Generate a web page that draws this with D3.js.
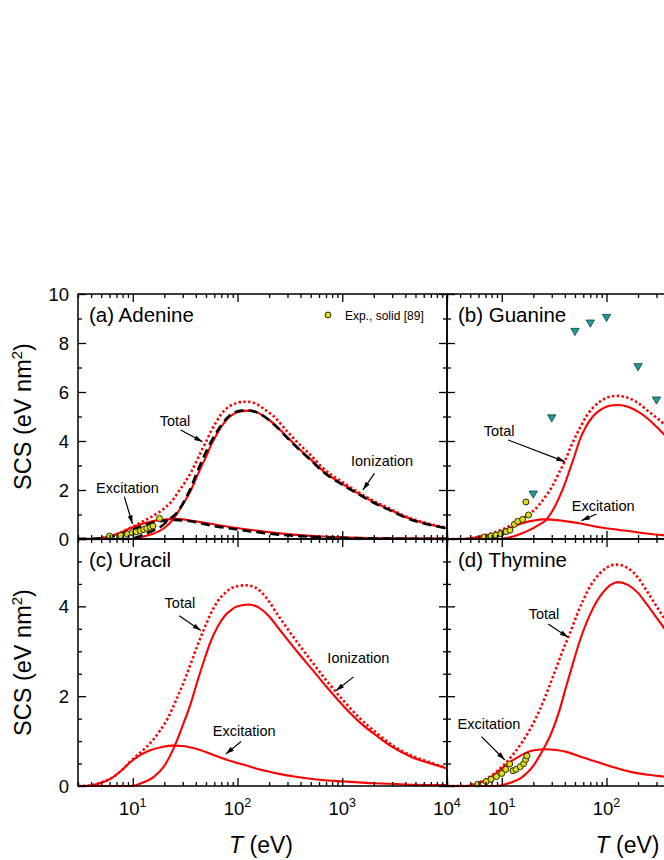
<!DOCTYPE html>
<html>
<head>
<meta charset="utf-8">
<script src="https://cdn.jsdelivr.net/npm/d3@7"></script>
<style>
body { margin: 0; background: #fff; }
svg { display: block; font-family: "Liberation Sans", Arial, sans-serif; overflow: hidden; }
</style>
</head>
<body>
<svg id="chart" width="664" height="860"></svg>
<script>
// ---- data: [T (eV), SCS (eV nm^2)] ----

// (a) Adenine
const adenineIon = [[3,0],[9,0],[10,0.01],[12,0.08],[14,0.15],[16,0.23],[20,0.45],[24,0.78],[27,1.1],[32,1.6],[36,2.0],[40,2.45],[45,2.95],[50,3.35],[56,3.84],[63,4.25],[70,4.58],[80,4.9],[94,5.13],[110,5.22],[128,5.24],[150,5.18],[180,5.0],[220,4.72],[300,4.15],[400,3.62],[500,3.25],[665,2.75],[1000,2.25],[1400,1.87],[2000,1.5],[2900,1.18],[4000,0.9],[4800,0.78],[7000,0.58],[10000,0.44]];
const adenineExc = [[3,0],[4,0],[5,0.04],[6,0.1],[7,0.2],[8,0.3],[9,0.4],[10,0.48],[12,0.6],[14,0.68],[17,0.76],[21,0.8],[25,0.82],[30,0.8],[39,0.73],[55,0.62],[81,0.5],[120,0.4],[182,0.3],[300,0.2],[660,0.1],[1500,0.05],[4000,0.025],[10000,0.015]];
const adenineTot = [[3,0],[4,0],[5,0.04],[6,0.1],[7,0.2],[8,0.3],[9,0.41],[10,0.5],[12,0.68],[14,0.83],[16,0.97],[20,1.25],[24,1.58],[27,1.9],[32,2.36],[36,2.72],[40,3.12],[45,3.58],[50,3.97],[56,4.4],[63,4.8],[70,5.1],[80,5.36],[94,5.52],[110,5.6],[126,5.6],[150,5.52],[180,5.3],[220,5.02],[300,4.38],[400,3.82],[500,3.42],[665,2.87],[1000,2.33],[1400,1.93],[2000,1.55],[2900,1.22],[4000,0.93],[7000,0.6],[10000,0.46]];
const adenineIonDash = [[3,0],[9,0],[11,0.07],[13,0.2],[16,0.36],[18.5,0.5],[22,0.78],[27,1.12],[31,1.55],[36,2.1],[40,2.6],[45,3.12],[50,3.55],[56,3.97],[63,4.35],[70,4.65],[80,4.95],[94,5.17],[110,5.24],[128,5.24],[150,5.18],[180,5.0],[220,4.7],[300,4.12],[400,3.6],[500,3.22],[665,2.72],[1000,2.22],[1400,1.85],[2000,1.48],[2900,1.16],[4000,0.88],[7000,0.57],[10000,0.44]];
const adenineExcDash = [[3,0],[4,0],[5,0.03],[6,0.08],[7,0.15],[9,0.3],[11,0.45],[13,0.57],[16,0.68],[20,0.75],[25,0.78],[30,0.76],[39,0.7],[55,0.56],[81,0.44],[120,0.34],[182,0.24],[300,0.15],[660,0.07],[1500,0.03],[4000,0.01],[10000,0.005]];
const adenineExpT = [6.0,7.7,8.9,9.9,10.8,11.8,12.7,13.6,14.7,15.6,18.0];
const adenineExpV = [0.12,0.14,0.2,0.26,0.29,0.34,0.39,0.44,0.48,0.53,0.84];

// (b) Guanine
const guanineIon = [[3,0],[9.5,0],[11,0.04],[12.8,0.1],[15,0.2],[18.5,0.37],[22,0.55],[26.6,0.78],[31,1.2],[35.6,1.73],[40,2.25],[44.5,2.82],[50,3.45],[55,4.0],[63,4.55],[74,5.0],[86,5.25],[100,5.4],[115,5.46],[133,5.47],[160,5.4],[200,5.2],[250,4.9],[300,4.58],[347,4.31],[400,4.05],[500,3.65]];
const guanineTot = [[3,0],[4.3,0],[5,0.03],[6.1,0.1],[7.5,0.19],[8.9,0.3],[11,0.46],[13,0.62],[15,0.77],[17.1,0.93],[20,1.15],[23,1.42],[26.6,1.78],[30.8,2.2],[35,2.68],[40,3.18],[46,3.8],[51.5,4.25],[57,4.62],[64,5.0],[74,5.35],[86,5.6],[100,5.76],[124,5.84],[150,5.8],[200,5.55],[250,5.22],[300,4.95],[347,4.72],[400,4.45],[500,4.0]];
const guanineExc = [[3,0],[4.3,0],[5,0.03],[6.1,0.08],[7.5,0.16],[9.6,0.28],[11,0.38],[12.8,0.5],[16,0.65],[20,0.75],[24.7,0.8],[30,0.79],[40,0.73],[55,0.64],[80,0.5],[133,0.37],[200,0.27],[347,0.16],[500,0.12]];
const guanineExpT = [6.8,7.9,8.8,9.8,11,12,13.2,14.2,15.8,18,17];
const guanineExpV = [0.08,0.12,0.16,0.22,0.3,0.36,0.6,0.72,0.8,0.98,1.51];
const guanineGasT = [20,30,50,70,100,200,300];
const guanineGasV = [1.86,4.97,8.5,8.84,9.07,7.06,5.7];

// (c) Uracil
const uracilIon = [[3,0],[9.6,0],[12,0.06],[16,0.21],[20,0.45],[24.9,0.87],[30,1.35],[35.8,1.84],[41,2.3],[48,2.8],[55,3.2],[64.4,3.54],[75,3.78],[86,3.91],[100,4.0],[129,4.04],[160,3.97],[200,3.78],[241,3.54],[300,3.26],[400,2.9],[501,2.63],[700,2.22],[1046,1.76],[1500,1.4],[2180,1.1],[3000,0.87],[4530,0.65],[7000,0.5],[10000,0.39]];
const uracilTot = [[3,0],[4,0.02],[5,0.08],[6.2,0.17],[8,0.37],[9.6,0.56],[12,0.76],[14.9,0.97],[18,1.22],[21.5,1.5],[26,1.92],[31,2.34],[36,2.74],[41.5,3.13],[48,3.5],[55.6,3.84],[65,4.12],[74.6,4.28],[90,4.42],[120,4.47],[150,4.41],[190,4.18],[241,3.82],[300,3.5],[400,3.1],[501,2.8],[700,2.36],[1046,1.88],[1500,1.49],[2180,1.16],[3000,0.91],[4530,0.68],[7000,0.52],[10000,0.4]];
const uracilExc = [[3,0],[3.7,0],[5,0.07],[6.2,0.17],[8,0.37],[9.6,0.54],[12,0.7],[14.9,0.8],[19,0.87],[24,0.9],[30,0.89],[38.6,0.84],[55,0.72],[80,0.58],[120,0.46],[167,0.36],[250,0.27],[348,0.21],[600,0.14],[1046,0.1],[2000,0.06],[4000,0.035],[10000,0.02]];

// (d) Thymine
const thymineIon = [[3,0],[8.9,0],[12,0.07],[15.9,0.21],[20,0.45],[24.7,0.8],[30,1.2],[35.6,1.69],[41,2.2],[47.8,2.73],[55,3.2],[64,3.62],[74,3.95],[86,4.21],[100,4.4],[129,4.54],[160,4.48],[200,4.3],[240,4.06],[300,3.75],[349,3.54],[450,3.2],[600,2.8]];
const thymineTot = [[3,0],[4.6,0],[5.5,0.05],[7.1,0.15],[9,0.33],[11,0.52],[13,0.72],[15.9,1.0],[19,1.3],[23,1.69],[28,2.18],[33,2.62],[38,3.0],[44.5,3.39],[52,3.8],[59.7,4.13],[70,4.45],[86,4.73],[100,4.86],[124,4.93],[160,4.85],[200,4.64],[240,4.36],[300,4.0],[349,3.76],[450,3.35],[600,2.95]];
const thymineExc = [[3,0],[4.6,0],[5.5,0.04],[7.1,0.13],[9,0.3],[11,0.47],[14,0.63],[17.1,0.74],[21,0.8],[26.6,0.82],[33,0.8],[41.3,0.76],[55,0.66],[80,0.54],[120,0.41],[166,0.32],[250,0.25],[349,0.21],[600,0.15]];
const thymineExpT = [5.9,7.1,7.9,8.9,10,10.9,11.9,12.8,13.7,15,16.2,16.9,17.4];
const thymineExpV = [0.04,0.1,0.15,0.21,0.28,0.37,0.49,0.34,0.37,0.43,0.5,0.59,0.67];

// ticks
const xMajor = [10, 100, 1000, 10000];
const xLabelPow = [1, 2, 3, 4];
const yTopMajor = [0, 2, 4, 6, 8, 10];
const yTopMinor = [1, 3, 5, 7, 9];
const yBotMajor = [0, 2, 4];
const yBotMinor = [0.5, 1, 1.5, 2.5, 3, 3.5, 4.5, 5];

// ---- layout ----
const svg = d3.select('#chart');
const PW = 369;
const COLS = [78, 447];
const ROWS = [{top: 294, bottom: 539, ymax: 10}, {top: 539, bottom: 786, ymax: 5.5}];
const RED = '#ff0000';

const xMinor = [];
for (let e = 0; e <= 3; e++) {
    for (let k = 2; k <= 9; k++) {
        let v = k * Math.pow(10, e);
        if (v >= 3 && v < 10000) xMinor.push(v);
    }
}

const defs = svg.append('defs');
defs.append('marker')
    .attr('id', 'arrow')
    .attr('viewBox', '0 0 10 6')
    .attr('refX', 10).attr('refY', 3)
    .attr('markerWidth', 9).attr('markerHeight', 5)
    .attr('markerUnits', 'userSpaceOnUse')
    .attr('orient', 'auto')
    .append('path').attr('d', 'M0,0 L10,3 L0,6 Z').attr('fill', '#000');

const panels = [
    {id: 'a', col: 0, row: 0, label: '(a) Adenine',
     lines: [
        {data: adenineTot, style: 'dot'},
        {data: adenineIon, style: 'solid'},
        {data: adenineExc, style: 'solid'},
        {data: adenineIonDash, style: 'dash'},
        {data: adenineExcDash, style: 'dash'}],
     exp: [adenineExpT, adenineExpV],
     notes: [
        {text: 'Total', t: 25.3, v: 4.61, from: [28.7, 4.45], to: [46.3, 3.97]},
        {text: 'Excitation', t: 8.9, v: 1.88, from: [8.3, 1.73], to: [9.93, 0.62]},
        {text: 'Ionization', t: 2400, v: 2.98, from: [2030, 2.68], to: [1574, 2.0]}]},
    {id: 'b', col: 1, row: 0, label: '(b) Guanine',
     lines: [
        {data: guanineTot, style: 'dot'},
        {data: guanineIon, style: 'solid'},
        {data: guanineExc, style: 'solid'}],
     exp: [guanineExpT, guanineExpV],
     gas: [guanineGasT, guanineGasV],
     notes: [
        {text: 'Total', t: 9.44, v: 4.2, from: [11.5, 4.04], to: [40, 3.16]},
        {text: 'Excitation', t: 92.9, v: 1.16, from: [80.2, 1.02], to: [57.7, 0.75]}]},
    {id: 'c', col: 0, row: 1, label: '(c) Uracil',
     lines: [
        {data: uracilTot, style: 'dot'},
        {data: uracilIon, style: 'solid'},
        {data: uracilExc, style: 'solid'}],
     notes: [
        {text: 'Total', t: 28.2, v: 3.96, from: [27.7, 3.79], to: [44.7, 3.46]},
        {text: 'Ionization', t: 1426, v: 2.75, from: [1282, 2.43], to: [869, 2.12]},
        {text: 'Excitation', t: 116, v: 1.11, from: [108, 0.99], to: [77.3, 0.71]}]},
    {id: 'd', col: 1, row: 1, label: '(d) Thymine',
     lines: [
        {data: thymineTot, style: 'dot'},
        {data: thymineIon, style: 'solid'},
        {data: thymineExc, style: 'solid'}],
     exp: [thymineExpT, thymineExpV],
     notes: [
        {text: 'Total', t: 25.3, v: 3.71, from: [27.7, 3.61], to: [43, 3.31]},
        {text: 'Excitation', t: 7.55, v: 1.26, from: [6.4, 1.1], to: [10.7, 0.58]}]}
];

panels.forEach(function(p) {
    let x0 = COLS[p.col];
    let r = ROWS[p.row];
    let x = d3.scaleLog().domain([3, 10000]).range([x0, x0 + PW]);
    let y = d3.scaleLinear().domain([0, r.ymax]).range([r.bottom, r.top]);
    let g = svg.append('g');

    defs.append('clipPath').attr('id', 'clip-' + p.id)
        .append('rect')
        .attr('x', x0).attr('y', r.top)
        .attr('width', PW).attr('height', r.bottom - r.top + 1.5);

    let plot = g.append('g').attr('clip-path', 'url(#clip-' + p.id + ')');

    let line = d3.line()
        .x(d => x(d[0]))
        .y(d => y(d[1]))
        .curve(d3.curveMonotoneX);

    // red curves first, black dashed on top
    p.lines.filter(l => l.style !== 'dash').forEach(function(l) {
        let path = plot.append('path')
            .attr('d', line(l.data))
            .attr('fill', 'none')
            .attr('stroke', RED);
        if (l.style === 'dot') {
            path.attr('stroke-width', 2.6).attr('stroke-dasharray', '2.4,2.4');
        } else {
            path.attr('stroke-width', 2.1);
        }
    });
    p.lines.filter(l => l.style === 'dash').forEach(function(l) {
        plot.append('path')
            .attr('d', line(l.data))
            .attr('fill', 'none')
            .attr('stroke', '#000')
            .attr('stroke-width', 2.6)
            .attr('stroke-dasharray', '9,5');
    });

    if (p.gas) {
        let tri = d3.symbol().type(d3.symbolTriangle).size(30);
        plot.selectAll('.gas').data(d3.zip(p.gas[0], p.gas[1])).enter()
            .append('path')
            .attr('d', tri)
            .attr('transform', d => 'translate(' + x(d[0]) + ',' + y(d[1]) + ') rotate(180)')
            .attr('fill', '#1f9b9b')
            .attr('stroke', '#173c3c')
            .attr('stroke-width', 0.8);
    }
    if (p.exp) {
        plot.selectAll('.exp').data(d3.zip(p.exp[0], p.exp[1])).enter()
            .append('circle')
            .attr('cx', d => x(d[0]))
            .attr('cy', d => y(d[1]))
            .attr('r', 3)
            .attr('fill', '#dcdc1e')
            .attr('stroke', '#2b2b00')
            .attr('stroke-width', 1);
    }

    // annotations
    p.notes.forEach(function(n) {
        g.append('text')
            .attr('x', x(n.t)).attr('y', y(n.v))
            .attr('text-anchor', 'middle')
            .attr('font-size', 14.5)
            .text(n.text);
        g.append('line')
            .attr('x1', x(n.from[0])).attr('y1', y(n.from[1]))
            .attr('x2', x(n.to[0])).attr('y2', y(n.to[1]))
            .attr('stroke', '#000').attr('stroke-width', 1.2)
            .attr('marker-end', 'url(#arrow)');
    });

    // ticks on all four sides, pointing inward
    function ticks(axis, pos, vals, size) {
        let a = g.append('g')
            .attr('transform', pos)
            .call(axis.tickValues(vals).tickSize(-size).tickSizeOuter(0).tickFormat(''));
        a.select('.domain').remove();
        a.selectAll('line').attr('stroke', '#000').attr('stroke-width', 1.3);
    }
    let yMajor = p.row === 0 ? yTopMajor : yBotMajor;
    let yMinor = p.row === 0 ? yTopMinor : yBotMinor;
    ticks(d3.axisBottom(x), 'translate(0,' + r.bottom + ')', xMajor, 8);
    ticks(d3.axisBottom(x), 'translate(0,' + r.bottom + ')', xMinor, 4);
    ticks(d3.axisTop(x), 'translate(0,' + r.top + ')', xMajor, 8);
    ticks(d3.axisTop(x), 'translate(0,' + r.top + ')', xMinor, 4);
    ticks(d3.axisLeft(y), 'translate(' + x0 + ',0)', yMajor, 8);
    ticks(d3.axisLeft(y), 'translate(' + x0 + ',0)', yMinor, 4);
    ticks(d3.axisRight(y), 'translate(' + (x0 + PW) + ',0)', yMajor, 8);
    ticks(d3.axisRight(y), 'translate(' + (x0 + PW) + ',0)', yMinor, 4);

    g.append('rect')
        .attr('x', x0).attr('y', r.top)
        .attr('width', PW).attr('height', r.bottom - r.top)
        .attr('fill', 'none').attr('stroke', '#000').attr('stroke-width', 1.5);

    g.append('text')
        .attr('x', x0 + 11).attr('y', r.top + 28)
        .attr('font-size', 20.5)
        .text(p.label);

    if (p.col === 0) {
        g.selectAll('.ylab').data(yMajor).enter()
            .append('text')
            .attr('x', x0 - 9)
            .attr('y', d => y(d) + 6.5)
            .attr('text-anchor', 'end')
            .attr('font-size', 18.5)
            .text(d => d);

        let yt = g.append('text')
            .attr('transform', 'translate(31,' + ((r.top + r.bottom) / 2) + ') rotate(-90)')
            .attr('text-anchor', 'middle')
            .attr('font-size', 23.5);
        yt.append('tspan').text('SCS (eV nm');
        yt.append('tspan').attr('font-size', 15).attr('dy', -9).text('2');
        yt.append('tspan').attr('dy', 9).text(')');
    }

    if (p.row === 1) {
        // right panel only shows 10^1 and 10^2 inside the window
        let shown = p.col === 0 ? [0, 1, 2, 3] : [0, 1];
        shown.forEach(function(i) {
            let t = g.append('text')
                .attr('x', x(xMajor[i])).attr('y', 815)
                .attr('text-anchor', 'middle')
                .attr('font-size', 18.5);
            t.append('tspan').text('10');
            t.append('tspan').attr('font-size', 12.5).attr('dy', -8).text(xLabelPow[i]);
        });
        let xt = g.append('text')
            .attr('x', x0 + PW / 2 - (p.col === 0 ? 1.5 : 4)).attr('y', 853)
            .attr('text-anchor', 'middle')
            .attr('font-size', 23);
        xt.append('tspan').attr('font-style', 'italic').text('T');
        xt.append('tspan').text(' (eV)');
    }
});

// legend in panel (a)
const legend = svg.append('g').attr('transform', 'translate(328,315)');
legend.append('circle')
    .attr('r', 3)
    .attr('fill', '#dcdc1e')
    .attr('stroke', '#2b2b00')
    .attr('stroke-width', 1);
legend.append('text')
    .attr('x', 17).attr('y', 4.5)
    .attr('font-size', 12)
    .text('Exp., solid [89]');
</script>
</body>
</html>
